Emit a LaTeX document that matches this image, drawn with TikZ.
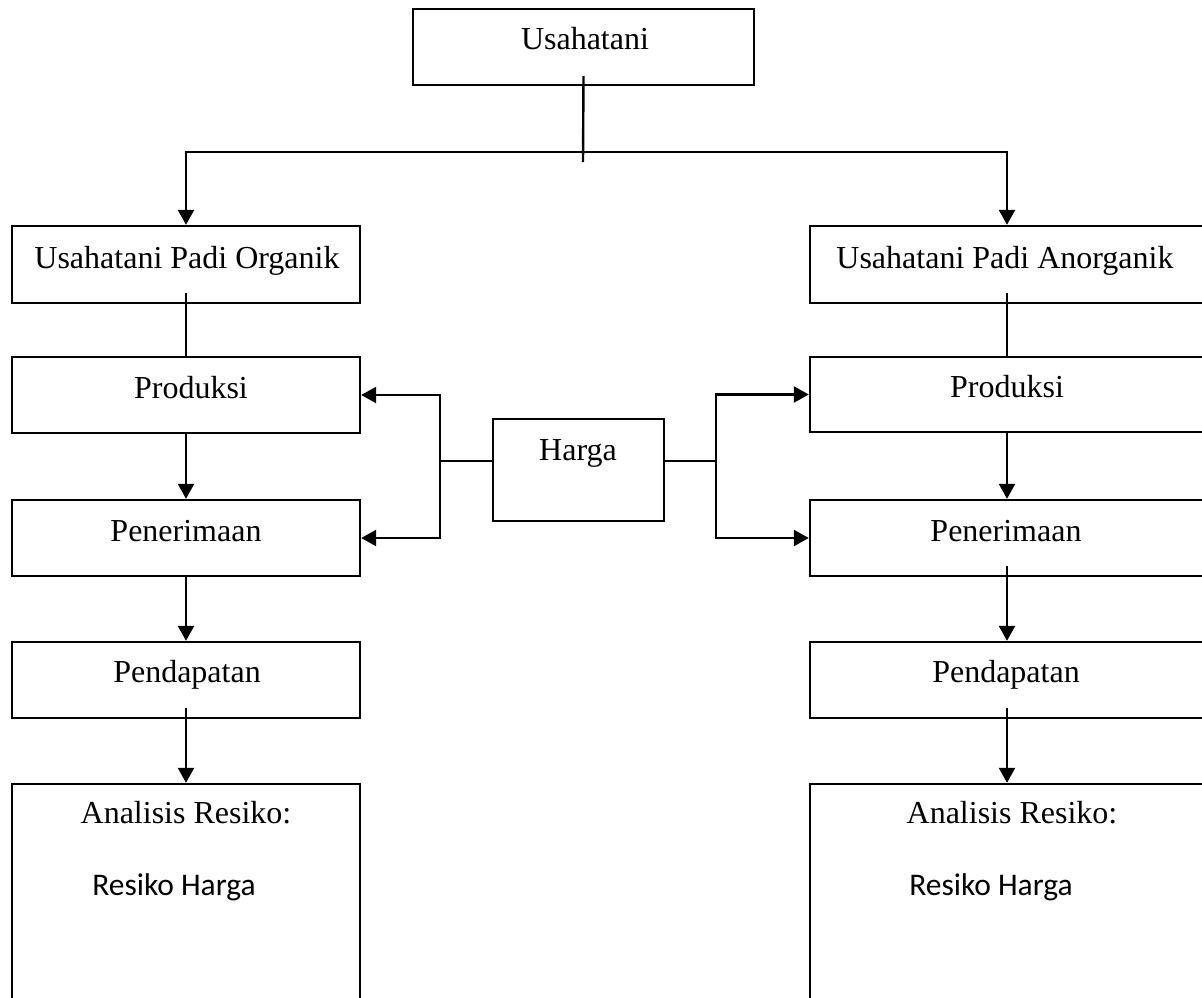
\documentclass[tikz,border=0pt]{standalone}
\usepackage{fontspec}
\setmainfont{Liberation Serif}
\newfontfamily\califont{Carlito}
\usetikzlibrary{arrows.meta,calc}
\tikzset{
  box/.style={draw, line width=2.4pt, rectangle, inner sep=0pt},
  lbl/.style={anchor=base, inner sep=0pt, font=\fontsize{32}{38}\selectfont},
  clbl/.style={anchor=base, inner sep=0pt, font=\califont\fontsize{31.5}{38}\selectfont},
  conn/.style={line width=2.4pt},
  arr/.style={line width=2.4pt, -{Triangle[length=15pt,width=16pt]}},
  lbox/.style={box, minimum width=348pt},
  rbox/.style={box, minimum width=394pt}
}
\begin{document}
\begin{tikzpicture}[x=1pt,y=-1pt]
\useasboundingbox (0,0) rectangle (1202,998);
\fill[white] (0,0) rectangle (1202,998);
\clip (0,0) rectangle (1202,998);

% boxes
\node[box, minimum width=341pt, minimum height=76pt] (top) at (583.5,47) {};
\node[lbox, minimum height=77pt] (org) at (186,264.5) {};
\node[rbox, minimum height=77pt] (anorg) at (1007,264.5) {};
\node[lbox, minimum height=76pt] (lprod) at (186,395) {};
\node[rbox, minimum height=75pt] (rprod) at (1007,394.5) {};
\node[box, minimum width=171pt, minimum height=102pt] (harga) at (578.5,470) {};
\node[lbox, minimum height=76pt] (lpen) at (186,538) {};
\node[rbox, minimum height=76pt] (rpen) at (1007,538) {};
\node[lbox, minimum height=76pt] (lpend) at (186,680) {};
\node[rbox, minimum height=76pt] (rpend) at (1007,680) {};
\node[lbox, minimum height=236pt] (lana) at (186,902) {};
\node[rbox, minimum height=236pt] (rana) at (1007,902) {};

% texts
\node[lbl] (ttop) at (585,49) {Usahatani};
\node[lbl] (torg) at (187,268) {Usahatani Padi Organik};
\node[lbl] (tanorg) at (1005,268) {Usahatani Padi Anorganik};
\node[lbl] (tlprod) at (191,398) {Produksi};
\node[lbl] (trprod) at (1007,397) {Produksi};
\node[lbl] (tharga) at (578,460) {Harga};
\node[lbl] (tlpen) at (186,541) {Penerimaan};
\node[lbl] (trpen) at (1006,541) {Penerimaan};
\node[lbl] (tlpend) at (187,682) {Pendapatan};
\node[lbl] (trpend) at (1006,682) {Pendapatan};
\node[lbl] (tlana) at (186,823) {Analisis Resiko:};
\node[lbl] (trana) at (1012,823) {Analisis Resiko:};
\node[clbl] (tlrh) at (174,895) {Resiko Harga};
\node[clbl] (trrh) at (991,895) {Resiko Harga};

% top connectors
\coordinate (j) at (583,152);
\coordinate (jend) at (583,162);
\draw[conn] ($(top.south)+(0,-10)$) -- (jend);
\draw[arr] (j) -| (org.north);
\draw[arr] (j) -| (anorg.north);

% left column
\draw[conn] ($(org.south)+(0,-11)$) -- (lprod.north);
\draw[arr] (lprod.south) -- (lpen.north);
\draw[arr] (lpen.south) -- (lpend.north);
\draw[arr] ($(lpend.south)+(0,-11)$) -- (lana.north);

% right column
\draw[conn] ($(anorg.south)+(0,-11)$) -- (rprod.north);
\draw[arr] (rprod.south) -- (rpen.north);
\draw[arr] ($(rpen.south)+(0,-11)$) -- (rpend.north);
\draw[arr] ($(rpend.south)+(0,-11)$) -- (rana.north);

% Harga connectors
\coordinate (hl) at (440,461);
\coordinate (hr) at (716,461);
\draw[conn] (harga.west |- hl) -- (hl);
\draw[arr] (hl) |- (lprod.east);
\draw[arr] (hl) |- (lpen.east);
\draw[conn] (harga.east |- hr) -- (hr);
\draw[arr] (hr) |- (rprod.west);
\draw[arr] (hr) |- (rpen.west);
\end{tikzpicture}
\end{document}
